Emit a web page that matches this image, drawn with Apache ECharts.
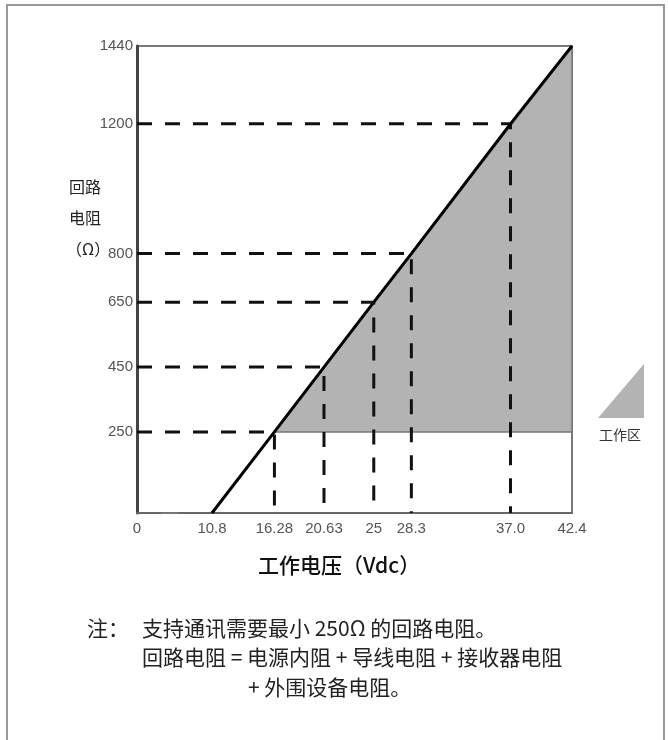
<!DOCTYPE html>
<html><head><meta charset="utf-8">
<script src="https://cdn.jsdelivr.net/npm/echarts@6/dist/echarts.min.js"></script>
<style>html,body{margin:0;padding:0;background:#fff}#c{width:668px;height:740px}</style>
</head><body><div id="c"></div>
<script>
// ---- data ----
const voltage    = [10.8, 16.28, 20.63, 25, 28.3, 37.0, 42.4];
const resistance = [0, 250, 450, 650, 800, 1200, 1440];
const guideIndex = [1, 2, 3, 4, 5];           // points that get dashed guide lines
const xTickValues = [0, 10.8, 16.28, 20.63, 25, 28.3, 37.0, 42.4];
const xTickText   = ['0', '10.8', '16.28', '20.63', '25', '28.3', '37.0', '42.4'];
const yTickValues = [250, 450, 650, 800, 1200, 1440];
const minResistance = 250;
const xMax = 42.4, yMax = 1440;

// ---- build ----
const linePts = voltage.map((v, i) => [v, resistance[i]]);
const fillPts = [[voltage[1], minResistance], [voltage[6], resistance[6]], [voltage[6], minResistance]];
const FONT = '"Liberation Sans", "Noto Sans CJK SC", sans-serif';
const CJK = '"Noto Sans CJK SC", "Liberation Sans", sans-serif';

const guideSeries = guideIndex.map(i => ({
  type: 'line', silent: true, symbol: 'none', z: 3, animation: false,
  data: [[0, resistance[i]], [voltage[i], resistance[i]], [voltage[i], 0]],
  lineStyle: { color: '#111', width: 3, type: [15, 13] }
}));

const chart = echarts.init(document.getElementById('c'), null, { renderer: 'canvas' });
chart.setOption({
  animation: false,
  backgroundColor: '#fff',
  grid: { left: 137, right: 96, top: 46, bottom: 227, show: true, borderColor: '#777', borderWidth: 2, containLabel: false },
  xAxis: {
    type: 'value', min: 0, max: xMax,
    breaks: [{ start: 2, end: 8, gap: 1.783 }],
    breakArea: { show: false, zigzagAmplitude: 0, expandOnClick: false, itemStyle: { opacity: 0, borderColor: 'transparent', color: 'transparent' } },
    axisLine: { show: true, onZero: false, lineStyle: { color: '#666', width: 2 } },
    axisTick: { show: false },
    splitLine: { show: false },
    axisLabel: {
      customValues: xTickValues, margin: 8, color: '#555', fontSize: 15, fontFamily: FONT,
      formatter: v => { const k = xTickValues.findIndex(t => Math.abs(t - v) < 1e-6); return k >= 0 ? xTickText[k] : ''; }
    }
  },
  yAxis: {
    type: 'value', min: 0, max: yMax,
    axisLine: { show: true, onZero: false, lineStyle: { color: '#444', width: 3 } },
    axisTick: { show: false },
    splitLine: { show: false },
    axisLabel: { customValues: yTickValues, margin: 4, color: '#555', fontSize: 15, fontFamily: FONT, formatter: v => String(v) }
  },
  series: [
    {
      type: 'custom', silent: true, z: 1, clip: true,
      data: fillPts, encode: { x: 0, y: 1 },
      renderItem: (params, api) => {
        if (params.dataIndex !== 0) return null;
        const pts = fillPts.map(p => api.coord(p));
        return { type: 'polygon', shape: { points: pts }, style: { fill: '#b3b3b3', stroke: '#777', lineWidth: 1.5 } };
      }
    },
    ...guideSeries,
    {
      type: 'line', silent: true, symbol: 'none', z: 5, data: linePts,
      lineStyle: { color: '#000', width: 3 }
    }
  ],
  graphic: [
    { type: 'polyline', silent: true, shape: { points: [[7, 742], [7, 5], [664, 5], [664, 742]] }, style: { stroke: '#999', lineWidth: 2, fill: null } },
    { type: 'text', left: 69, top: 179, style: { text: '回路', font: '16px ' + CJK, fill: '#222' } },
    { type: 'text', left: 69, top: 210, style: { text: '电阻', font: '16px ' + CJK, fill: '#222' } },
    { type: 'text', left: 66, top: 241, style: { text: '（Ω）', font: '16px ' + CJK, fill: '#222' } },
    { type: 'polygon', silent: true, shape: { points: [[598, 418], [644, 418], [644, 364]] }, style: { fill: '#b3b3b3' } },
    { type: 'text', left: 599, top: 428, style: { text: '工作区', font: '14px ' + CJK, fill: '#333' } },
    { type: 'text', left: 258, top: 555, style: { text: '工作电压（Vdc）', font: '500 21px ' + CJK, fill: '#111' } },
    { type: 'text', left: 87, top: 618, style: { text: '注：', font: '21px ' + CJK, fill: '#222' } },
    { type: 'text', left: 142, top: 618, style: { text: '支持通讯需要最小 250Ω 的回路电阻。', font: '21px ' + CJK, fill: '#222' } },
    { type: 'text', left: 142, top: 647, style: { text: '回路电阻 = 电源内阻 + 导线电阻 + 接收器电阻', font: '21px ' + CJK, fill: '#222' } },
    { type: 'text', left: 248, top: 677, style: { text: '+ 外围设备电阻。', font: '21px ' + CJK, fill: '#222' } }
  ]
});
</script></body></html>
